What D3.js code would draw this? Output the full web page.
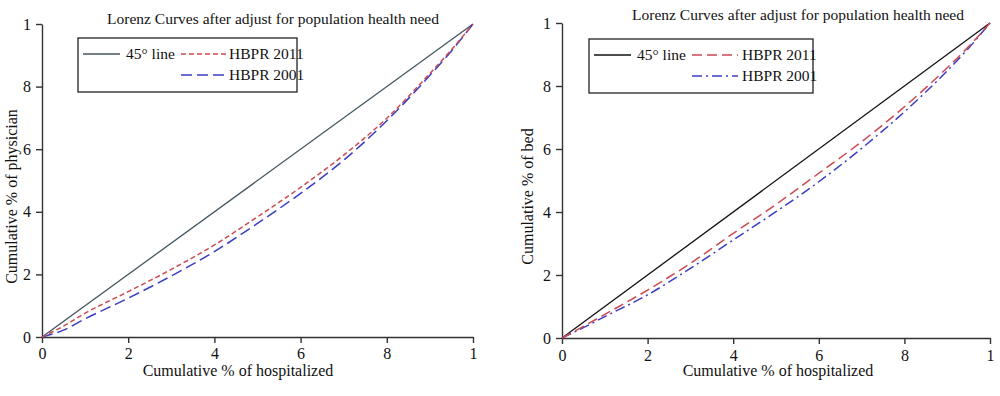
<!DOCTYPE html>
<html>
<head>
<meta charset="utf-8">
<script src="https://cdn.jsdelivr.net/npm/d3@7"></script>
<style>
  body { margin: 0; background: #fff; }
  text { font-family: "Liberation Serif", "DejaVu Serif", serif; fill: #111; }
  .domain, .tick line { stroke: #333; stroke-width: 1.4; }
</style>
</head>
<body>
<div id="chart"></div>
<script>
// chart size
var width = 1000;
var height = 396;

// shared x values (cumulative share of hospitalized)
var xShare = [0, 0.05, 0.1, 0.2, 0.3, 0.4, 0.5, 0.6, 0.7, 0.8, 0.9, 0.95, 1];

// left panel: physician
var physician2011 = [0, 0.035, 0.076, 0.145, 0.216, 0.294, 0.384, 0.478, 0.581, 0.699, 0.842, 0.918, 1];
var physician2001 = [0, 0.022, 0.058, 0.124, 0.195, 0.273, 0.363, 0.459, 0.565, 0.691, 0.836, 0.914, 1];

// right panel: bed
var bed2011 = [0, 0.037, 0.075, 0.152, 0.237, 0.332, 0.424, 0.523, 0.623, 0.734, 0.858, 0.925, 1];
var bed2001 = [0, 0.033, 0.068, 0.137, 0.221, 0.311, 0.401, 0.496, 0.602, 0.718, 0.848, 0.92, 1];

// tick values and their printed labels
var tickValues = [0, 0.2, 0.4, 0.6, 0.8, 1];
var tickLabels = ["0", "2", "4", "6", "8", "1"];

var titleText = "Lorenz Curves after adjust for population health need";
var xLabel = "Cumulative % of hospitalized";

var svg = d3.select("#chart")
  .append("svg")
  .attr("width", width)
  .attr("height", height);

var red = "#cc4a50";
var blue = "#3a3cc4";

var panels = [
  {
    left: 42, right: 473, top: 24, bottom: 337,
    yLabel: "Cumulative % of physician", yLabelX: 17,
    s2011: physician2011, s2001: physician2001,
    diagColor: "#44555f",
    dash2011: "5,3", dash2001: "11,5",
    titleX: 273, titleY: 24,
    box: [78, 38, 297, 92],
    sampleX: 181, sampleLen: 47, textGap: 48,
    xTickBaseline: 359, xLabelX: 238, xLabelY: 376
  },
  {
    left: 562, right: 990, top: 23, bottom: 338,
    yLabel: "Cumulative % of bed", yLabelX: 533,
    s2011: bed2011, s2001: bed2001,
    diagColor: "#111",
    dash2011: "10,5", dash2001: "10,4,2,4",
    titleX: 798, titleY: 20,
    box: [589, 39, 813, 93],
    sampleX: 692, sampleLen: 46, textGap: 50,
    xTickBaseline: 361, xLabelX: 778, xLabelY: 376
  }
];

panels.forEach(function(p) {
  var x = d3.scaleLinear().domain([0, 1]).range([p.left, p.right]);
  var y = d3.scaleLinear().domain([0, 1]).range([p.bottom, p.top]);
  var g = svg.append("g");

  // axes
  var xAxis = d3.axisBottom(x)
    .tickValues(tickValues)
    .tickSize(6)
    .tickSizeOuter(0)
    .tickFormat(function(d, i) { return tickLabels[i]; });
  var yAxis = d3.axisLeft(y)
    .tickValues(tickValues)
    .tickSize(6)
    .tickSizeOuter(0)
    .tickFormat(function(d, i) { return tickLabels[i]; });

  var gx = g.append("g")
    .attr("transform", "translate(0," + p.bottom + ")")
    .call(xAxis);
  gx.selectAll(".tick text")
    .attr("y", p.xTickBaseline - p.bottom)
    .attr("dy", 0)
    .style("font-size", "16px");

  var gy = g.append("g")
    .attr("transform", "translate(" + p.left + ",0)")
    .call(yAxis);
  gy.selectAll(".tick text")
    .attr("x", -11)
    .style("font-size", "16px");

  // lines
  var line = function(vals) {
    return d3.line()
      .x(function(d, i) { return x(xShare[i]); })
      .y(function(d) { return y(d); })
      .curve(d3.curveMonotoneX)(vals);
  };

  g.append("line")
    .attr("x1", x(0)).attr("y1", y(0))
    .attr("x2", x(1)).attr("y2", y(1))
    .attr("stroke", p.diagColor)
    .attr("stroke-width", 1.3);

  g.append("path")
    .attr("d", line(p.s2001))
    .attr("fill", "none")
    .attr("stroke", blue)
    .attr("stroke-width", 1.5)
    .attr("stroke-dasharray", p.dash2001);

  g.append("path")
    .attr("d", line(p.s2011))
    .attr("fill", "none")
    .attr("stroke", red)
    .attr("stroke-width", 1.5)
    .attr("stroke-dasharray", p.dash2011);

  // title
  g.append("text")
    .attr("x", p.titleX)
    .attr("y", p.titleY)
    .attr("text-anchor", "middle")
    .style("font-size", "15.5px")
    .text(titleText);

  // axis labels
  g.append("text")
    .attr("x", p.xLabelX)
    .attr("y", p.xLabelY)
    .attr("text-anchor", "middle")
    .style("font-size", "16px")
    .text(xLabel);

  g.append("text")
    .attr("transform", "translate(" + p.yLabelX + "," + ((p.top + p.bottom) / 2 + 16) + ") rotate(-90)")
    .attr("text-anchor", "middle")
    .style("font-size", "16px")
    .text(p.yLabel);

  // legend box
  var b = p.box;
  g.append("rect")
    .attr("x", b[0]).attr("y", b[1])
    .attr("width", b[2] - b[0]).attr("height", b[3] - b[1])
    .attr("fill", "#fff")
    .attr("stroke", "#222")
    .attr("stroke-width", 1.3);

  var legendItems = [
    { label: "45\u00b0 line", color: p.diagColor, dash: null, lx: b[0] + 5, ly: b[1] + 16, len: 37, gap: 43 },
    { label: "HBPR 2011", color: red, dash: p.dash2011, lx: p.sampleX, ly: b[1] + 16, len: p.sampleLen, gap: p.textGap },
    { label: "HBPR 2001", color: blue, dash: p.dash2001, lx: p.sampleX, ly: b[1] + 37, len: p.sampleLen, gap: p.textGap }
  ];

  var legend = g.selectAll(".legend-item")
    .data(legendItems)
    .enter()
    .append("g")
    .attr("class", "legend-item")
    .attr("transform", function(d) { return "translate(" + d.lx + "," + d.ly + ")"; });

  legend.append("line")
    .attr("x1", 0)
    .attr("x2", function(d) { return d.len; })
    .attr("stroke", function(d) { return d.color; })
    .attr("stroke-width", 1.5)
    .attr("stroke-dasharray", function(d) { return d.dash; });

  legend.append("text")
    .attr("x", function(d) { return d.gap; })
    .attr("y", 5)
    .style("font-size", "15.5px")
    .text(function(d) { return d.label; });
});
</script>
</body>
</html>
